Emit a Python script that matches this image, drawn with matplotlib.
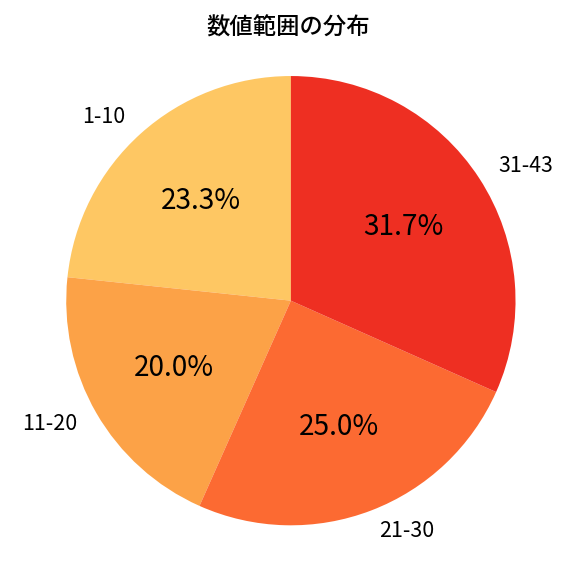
import matplotlib
matplotlib.use("Agg")
import matplotlib.pyplot as plt

plt.rcParams['font.family'] = ['Noto Sans CJK JP', 'DejaVu Sans']

# 各範囲の出現数
labels = ['1-10', '11-20', '21-30', '31-43']
counts = [14, 12, 15, 19]
colors = ['#FEC763', '#FCA247', '#FC6A32', '#EE2F22']

fig = plt.figure(figsize=(6, 6), dpi=96)
ax = fig.add_axes([0.505 - 0.39, 0.478 - 0.39, 0.78, 0.78])
wedges, texts, autotexts = ax.pie(
    counts, labels=labels, colors=colors, autopct='%1.1f%%',
    startangle=90, counterclock=True,
    textprops={'fontsize': 16}, labeldistance=1.1, pctdistance=0.6)
for t in autotexts:
    t.set_fontsize(21)
ax.set_xlim(-1, 1)
ax.set_ylim(-1, 1)
ax.set_aspect('equal')
fig.suptitle('数値範囲の分布', fontsize=17.5, fontweight='medium', y=0.972)

plt.savefig('out.png')
